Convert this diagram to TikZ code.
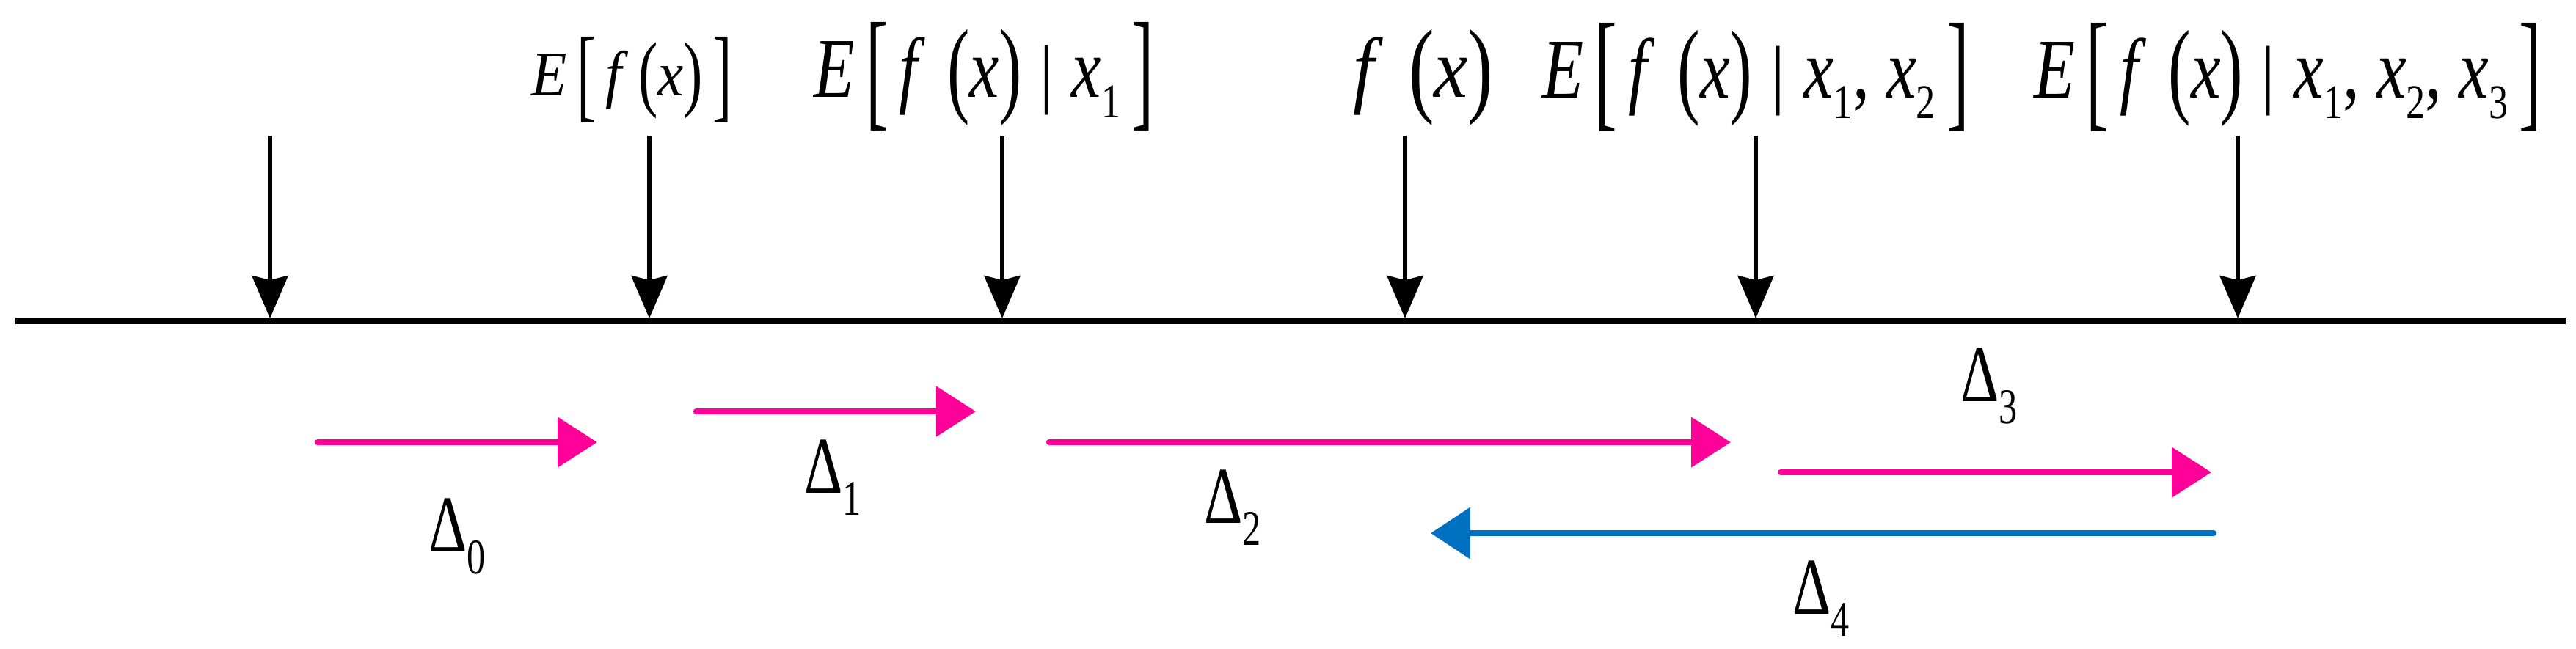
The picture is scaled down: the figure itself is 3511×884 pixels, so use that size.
\documentclass[tikz,border=0pt]{standalone}
\usepackage{fontspec}
\setmainfont{Liberation Serif}
\usepackage{graphicx}
\usetikzlibrary{arrows.meta}
\definecolor{arrowpink}{HTML}{FF0099}
\definecolor{arrowblue}{HTML}{0070C0}
\newcommand{\lsub}[1]{\raisebox{-2.8pt}{\fontsize{6.6}{7}\selectfont #1}}
\newcommand{\dsub}[1]{\raisebox{-3pt}{\fontsize{6.8}{7}\selectfont #1}}
\newcommand{\vi}[1]{\textit{#1}}
% stretched delimiter: glyph, depth below baseline, total height
\newcommand{\dlm}[3]{\raisebox{-#2}{\resizebox*{\width}{#3}{\raisebox{\depth}{#1}}}}
\newcommand{\lbk}{\dlm{[}{4.6pt}{14.8pt}}
\newcommand{\rbk}{\dlm{]}{4.6pt}{14.8pt}}
\newcommand{\lpr}{\dlm{(}{3.9pt}{13.1pt}}
\newcommand{\rpr}{\dlm{)}{3.9pt}{13.1pt}}
\newcommand{\midbar}{\dlm{|}{2.5pt}{9.5pt}}
\newcommand{\slbk}{\dlm{[}{3.7pt}{11.7pt}}
\newcommand{\srbk}{\dlm{]}{3.7pt}{11.7pt}}
\newcommand{\slpr}{\dlm{(}{3.2pt}{10.4pt}}
\newcommand{\srpr}{\dlm{)}{3.2pt}{10.4pt}}
\begin{document}
\begin{tikzpicture}[x=0.1pt,y=-0.1pt,
  axisline/.style={line width=0.9pt},
  downarrow/.style={line width=0.6pt,-{Stealth[length=5.8pt,width=4.9pt,inset=0.6pt]}},
  pinkarrow/.style={line width=0.85pt,draw=arrowpink,line cap=round,-{Triangle[length=5.4pt,width=6.7pt,color=arrowpink]}},
  bluearrow/.style={line width=0.85pt,draw=arrowblue,line cap=round,-{Triangle[length=5.4pt,width=6.9pt,color=arrowblue]}},
  lab/.style={inner sep=0pt,outer sep=0pt,anchor=base,font=\fontsize{11.6}{14}\selectfont},
  smalllab/.style={lab,font=\fontsize{8.7}{10}\selectfont},
  dlab/.style={inner sep=0pt,outer sep=0pt,anchor=base west,font=\fontsize{11}{13}\selectfont}]
\useasboundingbox (0,0) rectangle (3511,884);

% axis
\coordinate (axL) at (21,437);
\coordinate (axR) at (3497,437);
\draw[axisline] (axL) -- (axR);

% down arrows
\foreach \i/\x in {0/368,1/885,2/1366,3/1915,4/2393,5/3050}{
  \coordinate (t\i) at (\x,185);
  \coordinate (b\i) at (\x,434);
}
\foreach \i in {0,...,5}{\draw[downarrow] (t\i) -- (b\i);}

% top labels
\node[smalllab] (L1) at (861,130) {\resizebox{27.3pt}{\height}{\vi{E}\,\slbk\,\vi{f}\,\slpr\vi{x}\srpr\,\srbk}};
\node[lab] (L2) at (1341,132) {\resizebox{46.3pt}{\height}{\vi{E}\,\lbk\,\vi{f}\,\,\lpr\vi{x}\rpr\;\midbar\;\vi{x}\lsub{1}\,\rbk}};
\node[lab] (L3) at (1940,132) {\resizebox{19.1pt}{\height}{\vi{f}\,\,\lpr\vi{x}\rpr}};
\node[lab] (L4) at (2393,133) {\resizebox{58.2pt}{\height}{\vi{E}\,\lbk\,\vi{f}\,\,\lpr\vi{x}\rpr\;\midbar\;\vi{x}\lsub{1}, \vi{x}\lsub{2}\,\rbk}};
\node[lab] (L5) at (3118,133) {\resizebox{69.2pt}{\height}{\vi{E}\,\lbk\,\vi{f}\,\,\lpr\vi{x}\rpr\;\midbar\;\vi{x}\lsub{1}, \vi{x}\lsub{2}, \vi{x}\lsub{3}\,\rbk}};

% delta arrows
\coordinate (s0) at (433,603);  \coordinate (e0) at (814,603);
\coordinate (s1) at (949,561);  \coordinate (e1) at (1330,561);
\coordinate (s2) at (1430,603); \coordinate (e2) at (2359,603);
\coordinate (s3) at (2427,644); \coordinate (e3) at (3014,644);
\coordinate (s4) at (3017,727); \coordinate (e4) at (1950,727);
\draw[pinkarrow] (s0) -- (e0);
\draw[pinkarrow] (s1) -- (e1);
\draw[pinkarrow] (s2) -- (e2);
\draw[pinkarrow] (s3) -- (e3);
\draw[bluearrow] (s4) -- (e4);

% delta labels
\node[dlab] (D0) at (584,752) {\scalebox{0.74}[1]{Δ\dsub{0}}};
\node[dlab] (D1) at (1096,672) {\scalebox{0.74}[1]{Δ\dsub{1}}};
\node[dlab] (D2) at (1641,713) {\scalebox{0.74}[1]{Δ\dsub{2}}};
\node[dlab] (D3) at (2672,547) {\scalebox{0.74}[1]{Δ\dsub{3}}};
\node[dlab] (D4) at (2443,837) {\scalebox{0.74}[1]{Δ\dsub{4}}};
\end{tikzpicture}
\end{document}
